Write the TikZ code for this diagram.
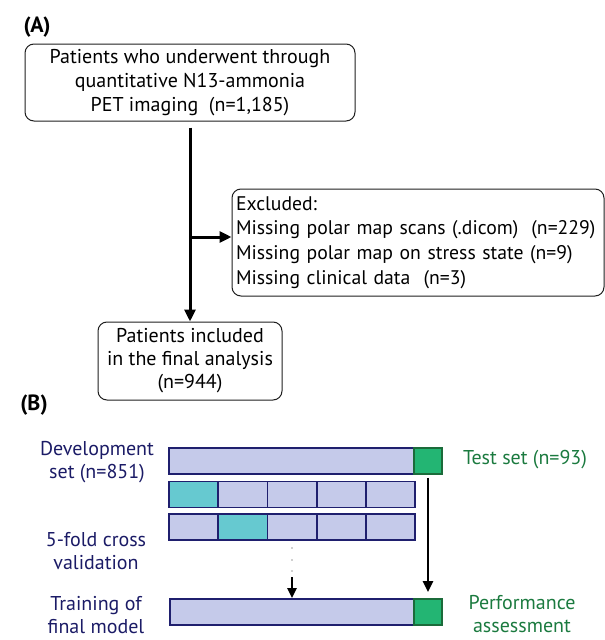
\documentclass[tikz,border=0pt]{standalone}
\usepackage{fontspec}
\setmainfont{PT Sans}
\usetikzlibrary{arrows.meta}
\definecolor{navy}{RGB}{27,27,102}
\definecolor{barfill}{RGB}{197,202,234}
\definecolor{barline}{RGB}{31,31,110}
\definecolor{cyanfill}{RGB}{102,201,208}
\definecolor{greenfill}{RGB}{35,181,115}
\definecolor{greenline}{RGB}{27,107,58}
\definecolor{greentext}{RGB}{27,122,63}
\definecolor{boxline}{RGB}{30,30,30}
\tikzset{
  flowbox/.style={draw=boxline, line width=1pt, rounded corners=9pt, inner sep=0pt, align=center, font=\fontsize{20}{24}\selectfont},
  arr/.style={line width=3pt, -{Triangle[length=12pt,width=11pt]}},
  barcell/.style={draw=barline, fill=barfill, line width=1.8pt, inner sep=0pt, minimum height=26pt},
  cvcell/.style={draw=barline, fill=cyanfill, line width=1.8pt, inner sep=0pt, minimum height=26pt},
  testcell/.style={draw=greenline, fill=greenfill, line width=1.8pt, inner sep=0pt, minimum height=26pt, minimum width=28pt},
  navylabel/.style={text=navy, align=center, font=\fontsize{20}{23}\selectfont},
  greenlabel/.style={text=greentext, align=center, font=\fontsize{20}{23}\selectfont},
  panel/.style={font=\bfseries\fontsize{22}{24}\selectfont}
}
\begin{document}
\begin{tikzpicture}[x=1pt,y=-1pt]
\useasboundingbox (0,0) rectangle (605,640);
% Panel A
\node[panel] (pa) at (37,27) {(A)};
\node[flowbox, minimum width=330pt, minimum height=77pt] (top) at (190,82.5)
  {Patients who underwent through\\quantitative N13-ammonia\\PET imaging\ \ (n=1,185)};
\node[flowbox, minimum width=372pt, minimum height=107pt, align=left, text width=364pt, font=\fontsize{19.7}{24.7}\selectfont] (excl) at (418,242.5)
  {Excluded:\\Missing polar map scans (.dicom)\ \ (n=229)\\Missing polar map on stress state (n=9)\\Missing clinical data\ \ (n=3)};
\node[flowbox, minimum width=184pt, minimum height=78pt, font=\fontsize{20}{23}\selectfont] (incl) at (190,361)
  {Patients included\\in the final analysis\\(n=944)};
\coordinate (br) at (190,237);
\draw[arr, shorten <=6pt] (top.south) -- (incl.north);
\draw[arr] (br) -- (br -| excl.west);
% Panel B
\node[panel] (pb) at (34,405) {(B)};
\node[barcell, minimum width=245pt] (dev) at (291.5,461) {};
\node[testcell] (test) at (428,461) {};
\foreach \i in {0,...,4}{
  \node[barcell, minimum width=49.2pt] (ra\i) at ({193.6+49.2*\i},494.5) {};
  \node[barcell, minimum width=49.2pt] (rb\i) at ({193.6+49.2*\i},527) {};
}
\node[cvcell, minimum width=49.2pt] (rac) at (193.6,494.5) {};
\node[cvcell, minimum width=49.2pt] (rbc) at (242.8,527) {};
\node[barcell, minimum width=244pt] (final) at (292,612) {};
\node[testcell] (perf) at (428,612) {};
\foreach \y in {548,560,571}{\fill[black!80] (292,\y) circle (0.7pt);}
\coordinate (dotend) at (292,577);
\draw[line width=2.4pt, -{Triangle[length=10pt,width=9pt]}] (dotend) -- (dotend |- final.north);
\draw[line width=2.4pt, -{Triangle[length=11pt,width=10pt]}, shorten <=3pt, shorten >=6pt] (test.south) -- (perf.north);
\node[navylabel] (ldev) at (97,462) {Development\\set (n=851)};
\node[navylabel] (lcv) at (96,551) {5-fold cross\\validation};
\node[navylabel] (ltr) at (96,615) {Training of\\final model};
\node[greenlabel] (ltest) at (525,460) {Test set (n=93)};
\node[greenlabel] (lperf) at (522,614) {Performance\\assessment};
\end{tikzpicture}
\end{document}
